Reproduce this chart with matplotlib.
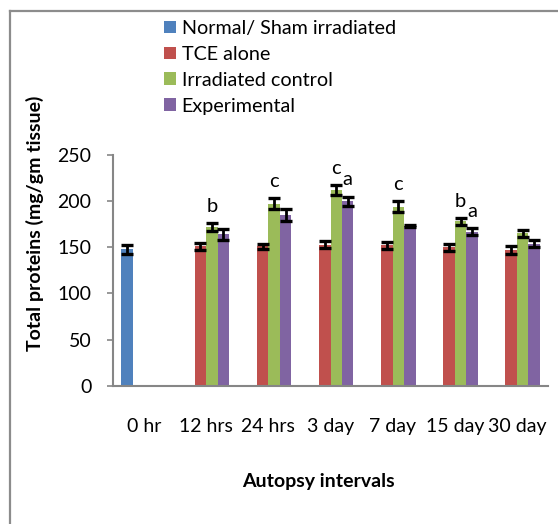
import matplotlib.pyplot as plt
import matplotlib.lines as mlines
import numpy as np

plt.rcParams['font.family'] = ['Lato', 'DejaVu Sans']

intervals = ['0 hr', '12 hrs', '24 hrs', '3 day', '7 day', '15 day', '30 day']
series_names = ['Normal/ Sham irradiated', 'TCE alone', 'Irradiated control', 'Experimental']
colors = ['#4F81BD', '#C0504D', '#9BBB59', '#8064A2']

normal = [148, np.nan, np.nan, np.nan, np.nan, np.nan, np.nan]
normal_err = [5, np.nan, np.nan, np.nan, np.nan, np.nan, np.nan]
tce = [np.nan, 151, 151, 153, 152, 150, 147]
tce_err = [np.nan, 4, 3, 4, 4, 4, 4]
irradiated = [np.nan, 172, 197, 212, 194, 178, 165]
irradiated_err = [np.nan, 4, 6, 5, 6, 4, 4]
experimental = [np.nan, 164, 185, 200, 173, 167, 154]
experimental_err = [np.nan, 6, 7, 5, 1, 4, 4]

# significance letters: (interval index, series index, letter)
letters = [(1, 2, 'b'), (2, 2, 'c'), (3, 2, 'c'), (3, 3, 'a'),
           (4, 2, 'c'), (5, 2, 'b'), (5, 3, 'a')]

values = [normal, tce, irradiated, experimental]
errors = [normal_err, tce_err, irradiated_err, experimental_err]

fig = plt.figure(figsize=(5.58, 5.24), dpi=100)
ax = fig.add_axes([0.2025, 0.2639, 0.7796, 0.4403])

x = np.arange(len(intervals))
width = 0.185
for i, (vals, errs, color, name) in enumerate(zip(values, errors, colors, series_names)):
    pos = x + (i - 1.5) * width
    ax.bar(pos, vals, width, color=color, label=name)
    ax.errorbar(pos, vals, yerr=errs, fmt='none', ecolor='black',
                elinewidth=2, capsize=4, capthick=2.4)

for ci, si, letter in letters:
    top = values[si][ci] + errors[si][ci]
    ax.text(x[ci] + (si - 1.5) * width, top + 12, letter, ha='center', va='baseline',
            fontsize=14.5, color='black')

ax.set_xlim(-0.5, len(intervals) - 0.5)
ax.set_ylim(0, 250)
ax.set_yticks(range(0, 251, 50))
ax.set_xticks(x)
ax.set_xticklabels(intervals)
ax.tick_params(axis='x', length=0, pad=23, labelsize=14)
ax.tick_params(axis='y', length=4.5, width=1.2, color='#868686', pad=11, labelsize=14)
for side in ['top', 'right']:
    ax.spines[side].set_visible(False)
for side in ['left', 'bottom']:
    ax.spines[side].set_color('#868686')
    ax.spines[side].set_linewidth(1.5)

fig.text(0.063, 1 - 223 / 524, 'Total proteins (mg/gm tissue)', rotation=90,
         ha='center', va='center', fontsize=14, fontweight='bold')
fig.text(318 / 558, 1 - 481 / 524, 'Autopsy intervals', ha='center', va='center',
         fontsize=14, fontweight='bold')

handles, labels = ax.get_legend_handles_labels()
handles = [h for h in handles if not isinstance(h, mlines.Line2D)]
fig.legend(handles[:4], series_names, loc='upper left',
           bbox_to_anchor=(156 / 558, 1 - 12 / 524), frameon=False, fontsize=14.2,
           handlelength=0.6, handleheight=0.6, handletextpad=0.3, labelspacing=0.45,
           borderaxespad=0)

# outer frame (top and left edges)
fig.add_artist(mlines.Line2D([9.5 / 558, 1], [1 - 10.5 / 524, 1 - 10.5 / 524],
                             color='#8c8c8c', lw=1.6, transform=fig.transFigure))
fig.add_artist(mlines.Line2D([9.5 / 558, 9.5 / 558], [0, 1 - 10.5 / 524],
                             color='#8c8c8c', lw=1.6, transform=fig.transFigure))

fig.savefig('out.png', dpi=100)
